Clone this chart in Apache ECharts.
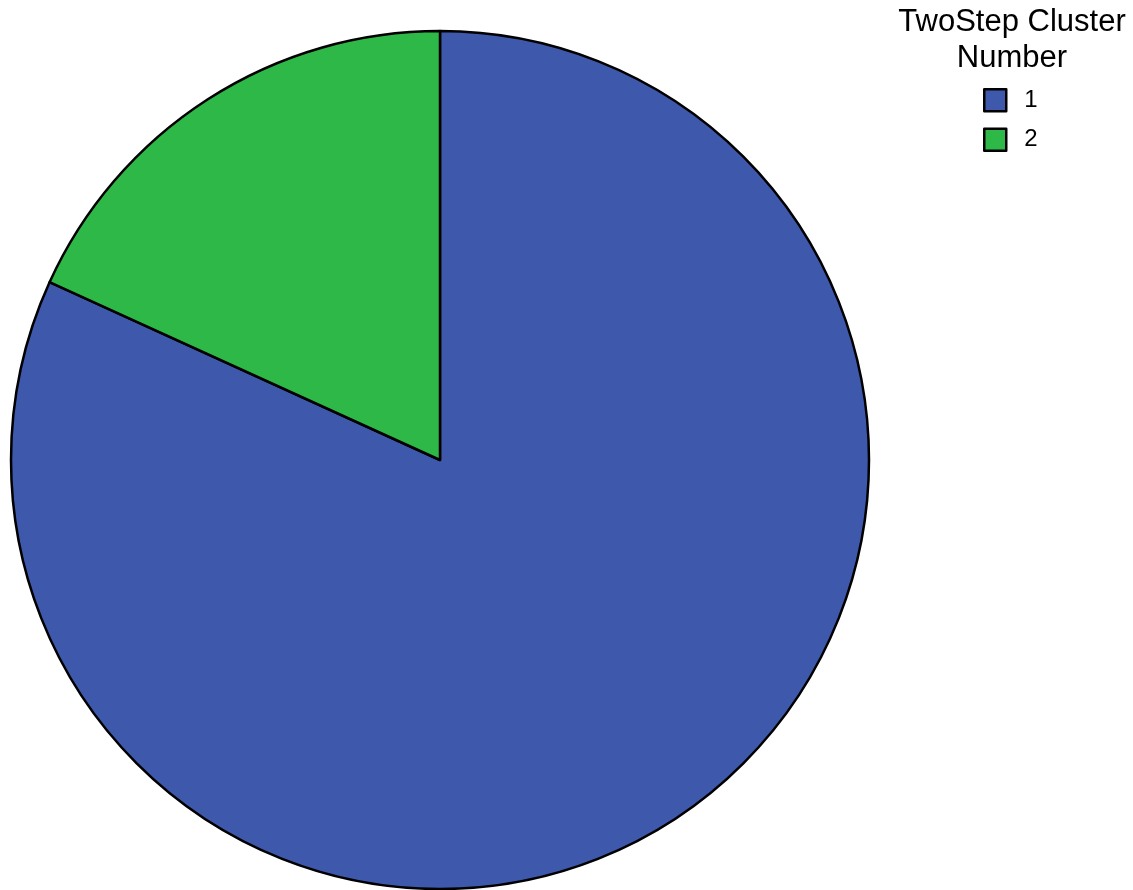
<!DOCTYPE html>
<html>
<head>
<meta charset="utf-8">
<script src="https://cdn.jsdelivr.net/npm/echarts@6/dist/echarts.min.js"></script>
<style>
html,body{margin:0;padding:0;background:#fff;}
#chart{width:1133px;height:890px;}
</style>
</head>
<body>
<div id="chart"></div>
<script>
const categories = ['1', '2'];
const values = [81.8, 18.2];
const colors = ['#3E58AC', '#2EB848'];
const legendTitle = 'TwoStep Cluster\nNumber';

const chart = echarts.init(document.getElementById('chart'), null, {renderer: 'canvas'});
const font = '"Liberation Sans", Arial, Helvetica, sans-serif';
chart.setOption({
  animation: false,
  backgroundColor: '#ffffff',
  graphic: [{
    type: 'text',
    x: 1012,
    y: 4,
    style: {
      text: legendTitle,
      align: 'center',
      verticalAlign: 'top',
      font: '31px ' + font,
      lineHeight: 36,
      fill: '#000'
    }
  }],
  legend: {
    orient: 'vertical',
    left: 983,
    top: 88,
    padding: 0,
    itemWidth: 22,
    itemHeight: 22,
    itemGap: 15,
    icon: 'rect',
    data: categories,
    itemStyle: {borderColor: '#000', borderWidth: 2.5},
    textStyle: {fontSize: 24, color: '#000', fontFamily: font, padding: [0, 0, 0, 13]}
  },
  series: [{
    type: 'pie',
    center: [440, 460],
    radius: [0, 429],
    startAngle: 90,
    clockwise: true,
    label: {show: false},
    labelLine: {show: false},
    emphasis: {disabled: true},
    itemStyle: {borderColor: '#000', borderWidth: 2.5},
    data: categories.map((c, i) => ({name: c, value: values[i], itemStyle: {color: colors[i]}}))
  }]
});
</script>
</body>
</html>
